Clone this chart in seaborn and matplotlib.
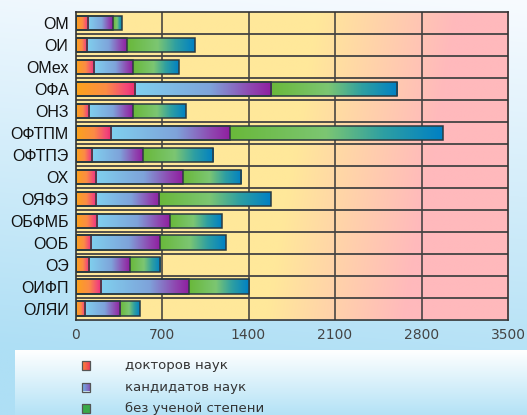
import numpy as np
import pandas as pd
import matplotlib
matplotlib.use("Agg")
import matplotlib.pyplot as plt
import seaborn as sns
from matplotlib.colors import LinearSegmentedColormap, to_rgb
from matplotlib.patches import Rectangle

categories = ["ОМ", "ОИ", "ОМех", "ОФА", "ОНЗ", "ОФТПМ", "ОФТПЭ",
              "ОХ", "ОЯФЭ", "ОБФМБ", "ООБ", "ОЭ", "ОИФП", "ОЛЯИ"]
doctors = [105, 97, 148, 479, 110, 291, 135, 164, 164, 172, 129, 113, 210, 75]
candidates = [199, 318, 315, 1104, 356, 956, 409, 703, 515, 590, 552, 326, 708, 286]
no_degree = [70, 549, 372, 1021, 428, 1723, 568, 476, 901, 420, 533, 245, 482, 158]
x_ticks = [0, 700, 1400, 2100, 2800, 3500]
legend_labels = ["докторов наук", "кандидатов наук", "без ученой степени"]

sns.set_theme(style="white")
plt.rcParams["font.family"] = ["Liberation Sans", "DejaVu Sans"]

W, H = 527, 415
fig = plt.figure(figsize=(W / 100, H / 100), dpi=100)

# ---- figure background ----
bg = fig.add_axes([0, 0, 1, 1], zorder=-10)
bg.set_axis_off()
yy = np.linspace(0, 1, 200)[:, None]
xx = np.linspace(0, 1, 200)[None, :]
top = np.array(to_rgb("#F8FBFF")); bot = np.array(to_rgb("#AEDFF5"))
t = np.clip(yy * 1.05 + (1 - xx) * 0.12, 0, 1)
img = top[None, None, :] * (1 - t[..., None]) + bot[None, None, :] * t[..., None]
bg.imshow(img, extent=[0, W, H, 0], aspect="auto", interpolation="bilinear")
lt = np.linspace(0, 1, 100)[:, None] + np.zeros((1, 10))
ltop = np.array(to_rgb("#FFFFFF")); lbot = np.array(to_rgb("#B3E2F6"))
limg = ltop[None, None, :] * (1 - lt[..., None]) + lbot[None, None, :] * lt[..., None]
bg.imshow(limg, extent=[15, W, H, 350], aspect="auto", interpolation="bilinear")

# ---- main axes ----
x0p, x1p, y0p, y1p = 75.5, 508, 12, 319.5
ax = fig.add_axes([x0p / W, 1 - y1p / H, (x1p - x0p) / W, (y1p - y0p) / H])

cum1 = np.array(doctors)
cum2 = cum1 + np.array(candidates)
cum3 = cum2 + np.array(no_degree)
df = pd.DataFrame({"cat": categories, "d": cum1, "c": cum2, "t": cum3})

groups = []
for col in ["t", "c", "d"]:
    n0 = len(ax.patches)
    sns.barplot(data=df, x=col, y="cat", orient="h", color="white",
                saturation=1, width=0.65, ax=ax, errorbar=None)
    groups.append(ax.patches[n0:])

cmaps = {
    "d": LinearSegmentedColormap.from_list("d", [(0, "#FBA31A"), (0.5, "#FC8C45"),
                                                  (0.85, "#F2467A"), (1, "#EE2A6B")]),
    "c": LinearSegmentedColormap.from_list("c", [(0, "#80D0EE"), (0.55, "#7EA3DA"),
                                                  (0.85, "#8F46B0"), (1, "#901FA0")]),
    "t": LinearSegmentedColormap.from_list("t", [(0, "#69B83A"), (0.45, "#7CC672"),
                                                  (0.72, "#2E9FA2"), (1, "#0080C4")]),
}
starts = {"t": cum2, "c": cum1, "d": np.zeros(len(categories))}
grad = np.linspace(0, 1, 256)[None, :]
for col, patches in zip(["t", "c", "d"], groups):
    for i, p in enumerate(patches):
        xs = starts[col][i]
        xe = p.get_x() + p.get_width()
        y = p.get_y(); h = p.get_height()
        im = ax.imshow(grad, cmap=cmaps[col], extent=[xs, xe, y + h, y],
                       aspect="auto", interpolation="bilinear", zorder=2.5)
        im.set_clip_path(p)
        p.set_facecolor("none")
        p.set_edgecolor("#2b3a40")
        p.set_linewidth(1.1)
        p.set_zorder(3)

# plot background gradient (diagonal yellow -> pink)
gy = np.linspace(1, 0, 100)[:, None]   # 1 at top row
gx = np.linspace(0, 1, 400)[None, :]
yel = np.array(to_rgb("#FFE89A")); pink = np.array(to_rgb("#FFB9BC"))
c0 = 0.44 + 0.12 * gy
tt = np.clip((gx - c0) / 0.32, 0, 1)
pimg = yel[None, None, :] * (1 - tt[..., None]) + pink[None, None, :] * tt[..., None]
ax.imshow(pimg, extent=[0, 3500, 13.5, -0.5], aspect="auto",
          interpolation="bilinear", zorder=0)

for xv in x_ticks[1:-1]:
    ax.axvline(xv, color="#3a3a3a", lw=1.1, zorder=1)
for k in range(len(categories) - 1):
    ax.axhline(k + 0.5, color="#444444", lw=1.3, zorder=1)

ax.set_xlim(0, 3500)
ax.set_ylim(13.5, -0.5)
ax.set_xticks(x_ticks)
ax.set_xticklabels([str(v) for v in x_ticks], fontsize=10, color="#444444",
                   family="DejaVu Sans")
ax.set_yticks(range(len(categories)))
ax.set_yticklabels(categories, fontsize=11.5, color="#111111",
                   family="Liberation Sans")
ax.tick_params(axis="x", length=0, pad=6)
ax.tick_params(axis="y", length=0, pad=5)
ax.set_xlabel(""); ax.set_ylabel("")
for s in ax.spines.values():
    s.set_visible(True)
    s.set_color("#333333")
    s.set_linewidth(1.2)

# ---- legend ----
leg_cmaps = [
    LinearSegmentedColormap.from_list("ld", ["#F98A3A", "#F0305A"]),
    LinearSegmentedColormap.from_list("lc", ["#6FB8E6", "#8A4AB4"]),
    LinearSegmentedColormap.from_list("lt", ["#3AAA48", "#3AAA48"]),
]
leg_y = [365.5, 387, 408]
for lab, cm, yc in zip(legend_labels, leg_cmaps, leg_y):
    r = Rectangle((81.5, yc - 4.5), 8.5, 9, facecolor="none", edgecolor="#555555",
                  lw=0.9, zorder=5)
    bg.add_patch(r)
    im = bg.imshow(np.linspace(0, 1, 50)[None, :], cmap=cm,
                   extent=[81.5, 90, yc + 4.5, yc - 4.5], aspect="auto", zorder=4)
    im.set_clip_path(r)
    bg.text(125, yc, lab, fontsize=9.5, color="#333333", va="center", ha="left",
            family="DejaVu Sans")
bg.set_xlim(0, W); bg.set_ylim(H, 0)

fig.savefig("out.png", dpi=100)
